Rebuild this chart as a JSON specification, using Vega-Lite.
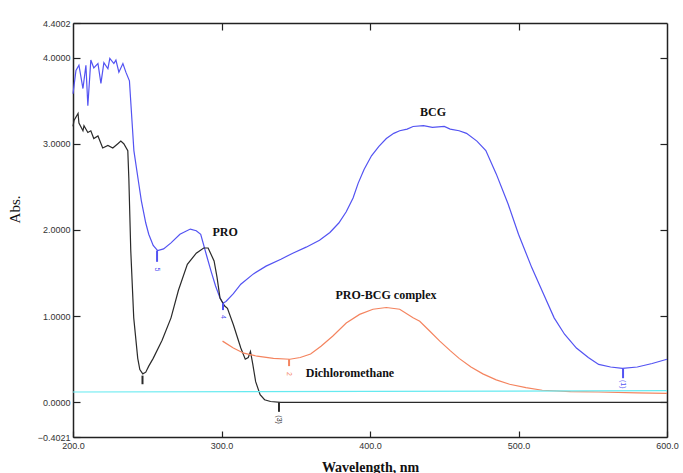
{
  "$schema": "https://vega.github.io/schema/vega-lite/v6.json",
  "autosize": "none",
  "width": 594,
  "height": 414,
  "padding": {"left": 73, "top": 23, "right": 16, "bottom": 36},
  "background": "white",
  "config": {
    "view": {"stroke": null},
    "axis": {"grid": false, "domainColor": "#222", "domainWidth": 1.5, "tickColor": "#222", "tickWidth": 1.2,
             "labelFont": "Liberation Sans", "labelFontSize": 9, "labelColor": "#333", "labelFlush": false, "labelOverlap": false}
  },
  "datasets": {
    "spectra": [
      {"series": "BCG", "wl": 200, "abs": 3.58}, {"series": "BCG", "wl": 202, "abs": 3.85}, {"series": "BCG", "wl": 204, "abs": 3.91},
      {"series": "BCG", "wl": 206.7, "abs": 3.64}, {"series": "BCG", "wl": 208.7, "abs": 3.91}, {"series": "BCG", "wl": 210, "abs": 3.44},
      {"series": "BCG", "wl": 212, "abs": 3.97}, {"series": "BCG", "wl": 214, "abs": 3.88}, {"series": "BCG", "wl": 216.8, "abs": 3.93},
      {"series": "BCG", "wl": 218.8, "abs": 3.70}, {"series": "BCG", "wl": 220.8, "abs": 3.94}, {"series": "BCG", "wl": 223.5, "abs": 3.87},
      {"series": "BCG", "wl": 224.8, "abs": 3.99}, {"series": "BCG", "wl": 227.5, "abs": 3.93}, {"series": "BCG", "wl": 228.9, "abs": 3.97},
      {"series": "BCG", "wl": 230.9, "abs": 3.83}, {"series": "BCG", "wl": 233.6, "abs": 3.93}, {"series": "BCG", "wl": 235.6, "abs": 3.83},
      {"series": "BCG", "wl": 238, "abs": 3.73}, {"series": "BCG", "wl": 240, "abs": 3.19}, {"series": "BCG", "wl": 241, "abs": 2.92},
      {"series": "BCG", "wl": 244, "abs": 2.57}, {"series": "BCG", "wl": 246, "abs": 2.34}, {"series": "BCG", "wl": 249, "abs": 2.08},
      {"series": "BCG", "wl": 251, "abs": 1.95}, {"series": "BCG", "wl": 254, "abs": 1.82}, {"series": "BCG", "wl": 257, "abs": 1.76},
      {"series": "BCG", "wl": 261, "abs": 1.78}, {"series": "BCG", "wl": 266, "abs": 1.85}, {"series": "BCG", "wl": 272, "abs": 1.95},
      {"series": "BCG", "wl": 279, "abs": 2.01}, {"series": "BCG", "wl": 283, "abs": 1.99}, {"series": "BCG", "wl": 286, "abs": 1.95},
      {"series": "BCG", "wl": 290, "abs": 1.70}, {"series": "BCG", "wl": 293, "abs": 1.52}, {"series": "BCG", "wl": 296, "abs": 1.35},
      {"series": "BCG", "wl": 299, "abs": 1.21}, {"series": "BCG", "wl": 301, "abs": 1.15}, {"series": "BCG", "wl": 303, "abs": 1.17},
      {"series": "BCG", "wl": 308, "abs": 1.26}, {"series": "BCG", "wl": 313, "abs": 1.37}, {"series": "BCG", "wl": 321.5, "abs": 1.49},
      {"series": "BCG", "wl": 330, "abs": 1.58}, {"series": "BCG", "wl": 340, "abs": 1.66}, {"series": "BCG", "wl": 348, "abs": 1.73},
      {"series": "BCG", "wl": 357, "abs": 1.80}, {"series": "BCG", "wl": 366, "abs": 1.88}, {"series": "BCG", "wl": 373, "abs": 1.97},
      {"series": "BCG", "wl": 379, "abs": 2.08}, {"series": "BCG", "wl": 384, "abs": 2.21}, {"series": "BCG", "wl": 388.6, "abs": 2.37},
      {"series": "BCG", "wl": 392, "abs": 2.54}, {"series": "BCG", "wl": 396, "abs": 2.70}, {"series": "BCG", "wl": 401, "abs": 2.86},
      {"series": "BCG", "wl": 406, "abs": 2.97}, {"series": "BCG", "wl": 411, "abs": 3.06}, {"series": "BCG", "wl": 416, "abs": 3.12},
      {"series": "BCG", "wl": 420, "abs": 3.15}, {"series": "BCG", "wl": 425, "abs": 3.17}, {"series": "BCG", "wl": 429, "abs": 3.20},
      {"series": "BCG", "wl": 436, "abs": 3.21}, {"series": "BCG", "wl": 442, "abs": 3.19}, {"series": "BCG", "wl": 450, "abs": 3.20},
      {"series": "BCG", "wl": 454, "abs": 3.17}, {"series": "BCG", "wl": 460, "abs": 3.15}, {"series": "BCG", "wl": 465, "abs": 3.12},
      {"series": "BCG", "wl": 472, "abs": 3.03}, {"series": "BCG", "wl": 478, "abs": 2.92}, {"series": "BCG", "wl": 485, "abs": 2.65},
      {"series": "BCG", "wl": 493, "abs": 2.30}, {"series": "BCG", "wl": 500, "abs": 1.95}, {"series": "BCG", "wl": 509, "abs": 1.56},
      {"series": "BCG", "wl": 517, "abs": 1.25}, {"series": "BCG", "wl": 524, "abs": 0.98}, {"series": "BCG", "wl": 531, "abs": 0.79},
      {"series": "BCG", "wl": 539, "abs": 0.63}, {"series": "BCG", "wl": 547, "abs": 0.52}, {"series": "BCG", "wl": 554, "abs": 0.44},
      {"series": "BCG", "wl": 562, "abs": 0.41}, {"series": "BCG", "wl": 570, "abs": 0.395}, {"series": "BCG", "wl": 580, "abs": 0.41},
      {"series": "BCG", "wl": 590, "abs": 0.45}, {"series": "BCG", "wl": 600, "abs": 0.50},

      {"series": "PRO", "wl": 200, "abs": 3.20}, {"series": "PRO", "wl": 200.7, "abs": 3.27}, {"series": "PRO", "wl": 203.4, "abs": 3.35},
      {"series": "PRO", "wl": 204, "abs": 3.24}, {"series": "PRO", "wl": 206.7, "abs": 3.15}, {"series": "PRO", "wl": 207.4, "abs": 3.21},
      {"series": "PRO", "wl": 210, "abs": 3.13}, {"series": "PRO", "wl": 212, "abs": 3.15}, {"series": "PRO", "wl": 214, "abs": 3.06},
      {"series": "PRO", "wl": 216.8, "abs": 3.09}, {"series": "PRO", "wl": 220, "abs": 2.95}, {"series": "PRO", "wl": 223.5, "abs": 2.98},
      {"series": "PRO", "wl": 226.8, "abs": 2.95}, {"series": "PRO", "wl": 230.2, "abs": 3.00}, {"series": "PRO", "wl": 232.2, "abs": 3.03},
      {"series": "PRO", "wl": 234.2, "abs": 3.00}, {"series": "PRO", "wl": 236.9, "abs": 2.92}, {"series": "PRO", "wl": 237.6, "abs": 2.60},
      {"series": "PRO", "wl": 238.9, "abs": 1.76}, {"series": "PRO", "wl": 240.9, "abs": 0.98}, {"series": "PRO", "wl": 243.6, "abs": 0.51},
      {"series": "PRO", "wl": 245, "abs": 0.38}, {"series": "PRO", "wl": 247, "abs": 0.33}, {"series": "PRO", "wl": 249, "abs": 0.35},
      {"series": "PRO", "wl": 251, "abs": 0.42}, {"series": "PRO", "wl": 254, "abs": 0.51}, {"series": "PRO", "wl": 260, "abs": 0.72},
      {"series": "PRO", "wl": 266, "abs": 0.98}, {"series": "PRO", "wl": 271, "abs": 1.30}, {"series": "PRO", "wl": 277, "abs": 1.60},
      {"series": "PRO", "wl": 283, "abs": 1.73}, {"series": "PRO", "wl": 288, "abs": 1.79}, {"series": "PRO", "wl": 291, "abs": 1.79},
      {"series": "PRO", "wl": 295, "abs": 1.64}, {"series": "PRO", "wl": 297, "abs": 1.45}, {"series": "PRO", "wl": 299, "abs": 1.21},
      {"series": "PRO", "wl": 302, "abs": 1.12}, {"series": "PRO", "wl": 304, "abs": 1.09}, {"series": "PRO", "wl": 308, "abs": 0.90},
      {"series": "PRO", "wl": 313, "abs": 0.63}, {"series": "PRO", "wl": 316, "abs": 0.50}, {"series": "PRO", "wl": 318, "abs": 0.52},
      {"series": "PRO", "wl": 319.5, "abs": 0.59}, {"series": "PRO", "wl": 321, "abs": 0.45}, {"series": "PRO", "wl": 323, "abs": 0.24},
      {"series": "PRO", "wl": 326, "abs": 0.09}, {"series": "PRO", "wl": 329, "abs": 0.03}, {"series": "PRO", "wl": 333, "abs": 0.01},
      {"series": "PRO", "wl": 340, "abs": 0.0}, {"series": "PRO", "wl": 600, "abs": 0.0},

      {"series": "PRO-BCG complex", "wl": 300.7, "abs": 0.71}, {"series": "PRO-BCG complex", "wl": 308, "abs": 0.63},
      {"series": "PRO-BCG complex", "wl": 315, "abs": 0.57}, {"series": "PRO-BCG complex", "wl": 324, "abs": 0.535},
      {"series": "PRO-BCG complex", "wl": 335, "abs": 0.51}, {"series": "PRO-BCG complex", "wl": 346, "abs": 0.50},
      {"series": "PRO-BCG complex", "wl": 353, "abs": 0.52}, {"series": "PRO-BCG complex", "wl": 360, "abs": 0.56},
      {"series": "PRO-BCG complex", "wl": 367, "abs": 0.65}, {"series": "PRO-BCG complex", "wl": 375, "abs": 0.77},
      {"series": "PRO-BCG complex", "wl": 384, "abs": 0.92}, {"series": "PRO-BCG complex", "wl": 393, "abs": 1.02},
      {"series": "PRO-BCG complex", "wl": 402, "abs": 1.08}, {"series": "PRO-BCG complex", "wl": 411, "abs": 1.10},
      {"series": "PRO-BCG complex", "wl": 420, "abs": 1.08}, {"series": "PRO-BCG complex", "wl": 429, "abs": 0.98},
      {"series": "PRO-BCG complex", "wl": 433.5, "abs": 0.94}, {"series": "PRO-BCG complex", "wl": 440, "abs": 0.83},
      {"series": "PRO-BCG complex", "wl": 447, "abs": 0.71}, {"series": "PRO-BCG complex", "wl": 454, "abs": 0.60},
      {"series": "PRO-BCG complex", "wl": 460, "abs": 0.51}, {"series": "PRO-BCG complex", "wl": 468, "abs": 0.41},
      {"series": "PRO-BCG complex", "wl": 476, "abs": 0.33}, {"series": "PRO-BCG complex", "wl": 485, "abs": 0.26},
      {"series": "PRO-BCG complex", "wl": 494, "abs": 0.21}, {"series": "PRO-BCG complex", "wl": 505, "abs": 0.17},
      {"series": "PRO-BCG complex", "wl": 516, "abs": 0.14}, {"series": "PRO-BCG complex", "wl": 535, "abs": 0.125},
      {"series": "PRO-BCG complex", "wl": 554, "abs": 0.12}, {"series": "PRO-BCG complex", "wl": 580, "abs": 0.11},
      {"series": "PRO-BCG complex", "wl": 600, "abs": 0.105},

      {"series": "Dichloromethane", "wl": 200, "abs": 0.12}, {"series": "Dichloromethane", "wl": 400, "abs": 0.127},
      {"series": "Dichloromethane", "wl": 600, "abs": 0.135}
    ],
    "markers": [
      {"series": "BCG", "wl": 256.6, "top": 1.76, "bottom": 1.63, "label": "5", "labelAbs": 1.54},
      {"series": "BCG", "wl": 301, "top": 1.15, "bottom": 1.07, "label": "4", "labelAbs": 0.99},
      {"series": "PRO-BCG complex", "wl": 345.5, "top": 0.50, "bottom": 0.42, "label": "2", "labelAbs": 0.33},
      {"series": "PRO", "wl": 338.7, "top": 0.0, "bottom": -0.11, "label": "(3)", "labelAbs": -0.2},
      {"series": "PRO", "wl": 246.8, "top": 0.31, "bottom": 0.21, "label": "", "labelAbs": 0.15},
      {"series": "BCG", "wl": 570.4, "top": 0.39, "bottom": 0.28, "label": "(1)", "labelAbs": 0.21}
    ],
    "names": [
      {"name": "BCG", "wl": 442.4, "abs": 3.37},
      {"name": "PRO", "wl": 302.4, "abs": 1.98},
      {"name": "PRO-BCG complex", "wl": 410.8, "abs": 1.25},
      {"name": "Dichloromethane", "wl": 386.5, "abs": 0.34}
    ]
  },
  "layer": [
    {
      "data": {"name": "spectra"},
      "mark": {"type": "line", "strokeWidth": 1.2, "interpolate": "linear"},
      "encoding": {
        "x": {"field": "wl", "type": "quantitative",
              "scale": {"domain": [200, 600], "nice": false, "zero": false},
              "axis": {"orient": "bottom", "values": [200, 300, 400, 500, 600], "format": ".1f", "tickSize": -6, "labelPadding": 10,
                       "title": "Wavelength, nm", "titleFont": "Liberation Serif", "titleFontSize": 14, "titleFontWeight": "bold",
                       "titleColor": "#111", "titlePadding": 10}},
        "y": {"field": "abs", "type": "quantitative",
              "scale": {"domain": [-0.4021, 4.4002], "nice": false, "zero": false},
              "axis": {"orient": "left", "values": [-0.4021, 0, 1, 2, 3, 4, 4.4002], "format": ".4f", "tickSize": -7, "labelPadding": 10,
                       "title": "Abs.", "titleFont": "Liberation Serif", "titleFontSize": 15, "titleFontWeight": "normal",
                       "titleColor": "#111", "titleX": -51, "titleY": 186}},
        "color": {"field": "series", "type": "nominal", "legend": null,
                  "scale": {"domain": ["BCG", "PRO", "PRO-BCG complex", "Dichloromethane"],
                            "range": ["#5353F2", "#2a2a2a", "#F4845F", "#66EAF0"]}},
        "detail": {"field": "series"}
      }
    },
    {
      "data": {"name": "markers"},
      "mark": {"type": "rule", "strokeWidth": 2},
      "encoding": {
        "x": {"field": "wl", "type": "quantitative", "scale": {"domain": [200, 600], "nice": false, "zero": false}, "axis": null},
        "y": {"field": "top", "type": "quantitative", "scale": {"domain": [-0.4021, 4.4002], "nice": false, "zero": false}, "axis": null},
        "y2": {"field": "bottom"},
        "color": {"field": "series", "type": "nominal", "legend": null}
      }
    },
    {
      "data": {"name": "markers"},
      "mark": {"type": "text", "fontSize": 7, "angle": 90, "font": "Liberation Sans"},
      "encoding": {
        "x": {"field": "wl", "type": "quantitative", "scale": {"domain": [200, 600], "nice": false, "zero": false}, "axis": null},
        "y": {"field": "labelAbs", "type": "quantitative", "scale": {"domain": [-0.4021, 4.4002], "nice": false, "zero": false}, "axis": null},
        "text": {"field": "label"},
        "color": {"field": "series", "type": "nominal", "legend": null}
      }
    },
    {
      "data": {"name": "names"},
      "mark": {"type": "text", "font": "Liberation Serif", "fontSize": 12, "fontWeight": "bold", "color": "#111"},
      "encoding": {
        "x": {"field": "wl", "type": "quantitative", "scale": {"domain": [200, 600], "nice": false, "zero": false},
              "axis": {"orient": "top", "values": [300, 400, 500], "labels": false, "tickSize": -7, "title": null}},
        "y": {"field": "abs", "type": "quantitative", "scale": {"domain": [-0.4021, 4.4002], "nice": false, "zero": false},
              "axis": {"orient": "right", "values": [0, 1, 2, 3, 4], "labels": false, "tickSize": -7, "title": null}},
        "text": {"field": "name"}
      }
    }
  ],
  "resolve": {"axis": {"x": "independent", "y": "independent"}}
}
